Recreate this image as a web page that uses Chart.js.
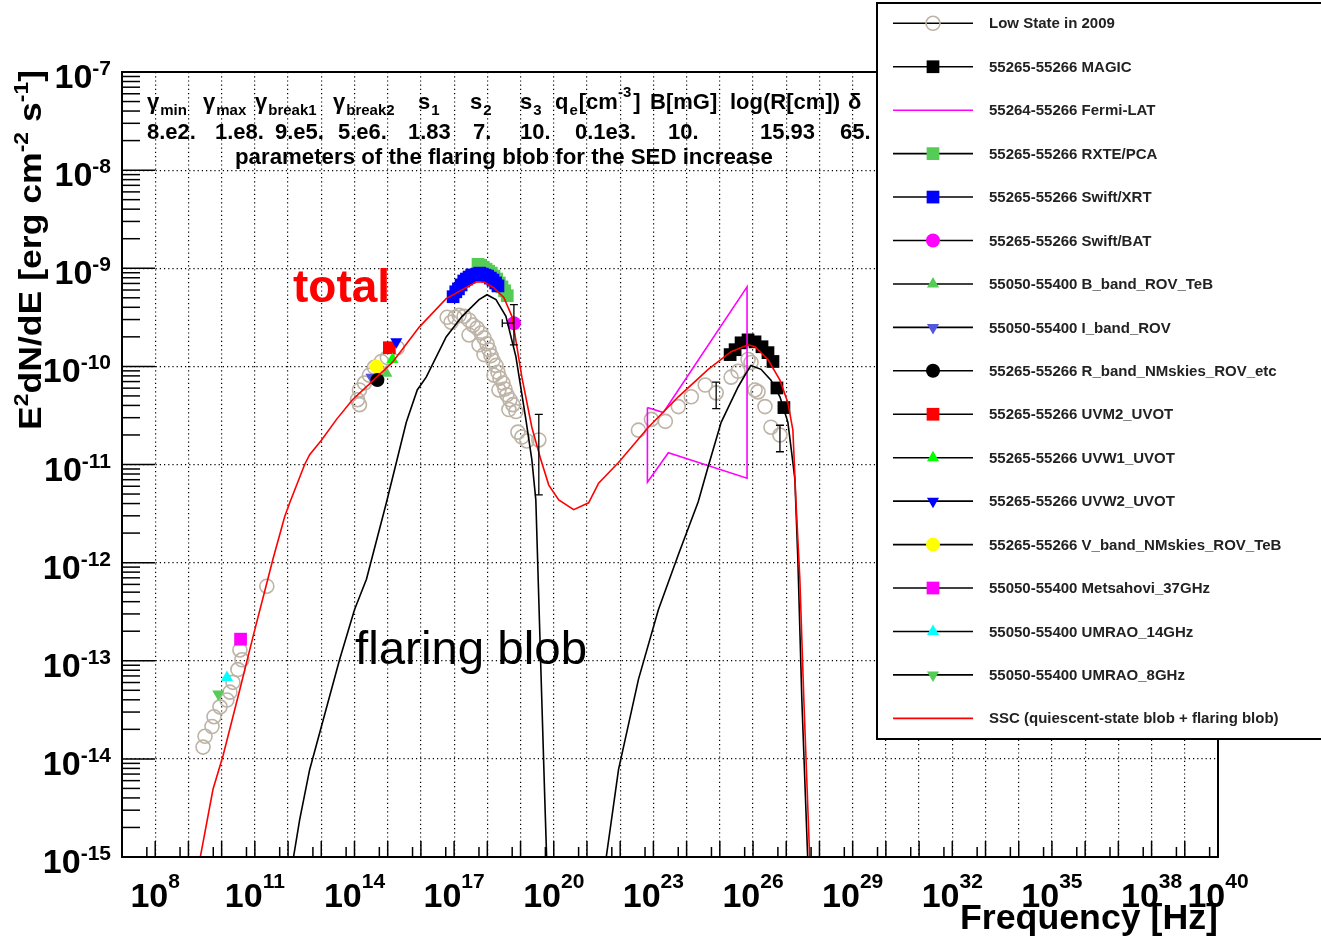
<!DOCTYPE html>
<html><head><meta charset="utf-8">
<script src="https://cdn.jsdelivr.net/npm/chart.js@4.4.1/dist/chart.umd.min.js"></script>
<style>html,body{margin:0;padding:0;background:#fff}#wrap{width:1321px;height:938px;position:relative}</style>
</head><body><div id="wrap"><canvas id="c" width="1321" height="938"></canvas></div>
<script>
// ---------- axis ticks (log10 exponents) ----------
const xTickExp = [8,11,14,17,20,23,26,29,32,35,38,40];
const yTickExp = [-7,-8,-9,-10,-11,-12,-13,-14,-15];
const xDecades = [7,8,9,10,11,12,13,14,15,16,17,18,19,20,21,22,23,24,25,26,27,28,29,30,31,32,33,34,35,36,37,38,39,40];
const yDecades = [-15,-14,-13,-12,-11,-10,-9,-8,-7];

// ---------- data (log10 frequency [Hz], log10 E^2dN/dE [erg cm^-2 s^-1]) ----------
const lowFreq = [9.44,9.50,9.71,9.77,9.95,10.16,10.25,10.34,10.49,10.61,10.55,11.36,
 14.09,14.15,14.15,14.30,14.45,14.60,14.81,14.99,15.29,
 16.79,16.91,17.03,17.15,17.30,17.45,17.57,17.69,17.81,17.90,17.99,18.05,18.11,18.17,18.26,18.32,18.38,18.47,18.53,18.59,18.68,18.77,18.86,18.92,19.04,19.19,19.55,
 17.45,17.75,17.90,18.20,18.35,18.65,
 22.55,22.94,23.36,23.75,24.14,24.56,24.89,25.34,25.55,25.85,25.94,26.06,26.15,26.36,26.54,26.81];
const lowFlux = [-13.88,-13.77,-13.67,-13.57,-13.47,-13.40,-13.32,-13.22,-13.09,-12.99,-12.89,-12.24,
 -10.34,-10.39,-10.24,-10.17,-10.09,-10.01,-9.95,-9.91,-9.81,
 -9.50,-9.55,-9.50,-9.48,-9.49,-9.53,-9.58,-9.61,-9.66,-9.71,-9.77,-9.83,-9.89,-9.94,-9.99,-10.06,-10.12,-10.17,-10.23,-10.29,-10.34,-10.39,-10.46,-10.67,-10.72,-10.76,-10.75,
 -9.68,-9.78,-9.88,-10.09,-10.24,-10.44,
 -10.65,-10.54,-10.56,-10.41,-10.31,-10.19,-10.27,-10.11,-10.05,-9.93,-9.96,-10.24,-10.26,-10.41,-10.62,-10.70];

const magicFreq = [25.31,25.46,25.64,25.85,26.06,26.27,26.45,26.60,26.72,26.93];
const magicFlux = [-9.88,-9.83,-9.76,-9.73,-9.75,-9.80,-9.86,-9.95,-10.22,-10.42];

const fermiFreq = [22.82,23.30,25.82,25.82,23.45,22.82,22.82];
const fermiFlux = [-10.42,-10.47,-9.19,-11.14,-10.88,-11.18,-10.42];

const rxteFreq = [17.72,17.80,17.88,17.96,18.04,18.12,18.20,18.28,18.36,18.44,18.52,18.60];
const rxteFlux = [-8.96,-8.97,-8.99,-9.01,-9.03,-9.05,-9.08,-9.11,-9.15,-9.19,-9.23,-9.28];

const xrtFreq = [16.97,17.05,17.13,17.21,17.29,17.37,17.45,17.53,17.61,17.69,17.77,17.85,17.93,18.01,18.09,18.17,18.25,18.32];
const xrtFlux = [-9.29,-9.24,-9.21,-9.17,-9.13,-9.11,-9.09,-9.07,-9.07,-9.06,-9.05,-9.06,-9.07,-9.08,-9.10,-9.12,-9.15,-9.18];

const batFreq = [18.80];
const batFlux = [-9.56];

const bBandFreq = [14.96]; const bBandFlux = [-10.07];
const iBandFreq = [14.51]; const iBandFlux = [-10.11];
const rBandFreq = [14.69]; const rBandFlux = [-10.14];
const uvm2Freq = [15.05]; const uvm2Flux = [-9.81];
const uvw1Freq = [15.14]; const uvw1Flux = [-9.93];
const uvw2Freq = [15.26]; const uvw2Flux = [-9.75];
const vBandFreq = [14.66]; const vBandFlux = [-10.00];
const mets37Freq = [10.57]; const mets37Flux = [-12.78];
const umrao14Freq = [10.16]; const umrao14Flux = [-13.17];
const umrao8Freq = [9.90]; const umrao8Flux = [-13.34];

// model curves
const sscFreq = [9.33,9.74,10.04,10.55,11.00,11.39,11.54,11.90,12.05,12.50,12.65,13.01,13.46,13.94,14.51,15.14,15.95,16.76,17.66,17.90,18.20,18.50,18.74,19.04,19.34,19.61,19.85,20.15,20.60,21.05,21.35,21.95,22.85,23.75,24.65,25.34,25.85,26.06,26.45,26.81,27.05,27.20,27.29,27.41,27.53,27.71];
const sscFlux = [-15.05,-14.31,-13.97,-13.29,-12.68,-12.17,-11.97,-11.53,-11.39,-11.00,-10.90,-10.75,-10.54,-10.34,-10.16,-9.96,-9.60,-9.31,-9.14,-9.14,-9.20,-9.30,-9.49,-10.11,-10.62,-10.95,-11.21,-11.36,-11.46,-11.39,-11.19,-10.98,-10.62,-10.31,-10.03,-9.85,-9.78,-9.80,-9.93,-10.14,-10.37,-10.65,-11.36,-12.17,-13.40,-15.05];
const blobSynFreq = [12.14,12.35,12.65,13.10,13.55,14.00,14.36,14.96,15.26,15.56,15.89,16.16,16.76,17.24,17.75,17.99,18.26,18.56,18.86,19.16,19.34,19.46,19.55,19.64,19.73,19.79];
const blobSynFlux = [-15.05,-14.62,-14.11,-13.55,-12.99,-12.48,-12.17,-11.39,-10.98,-10.57,-10.24,-10.11,-9.70,-9.49,-9.32,-9.27,-9.32,-9.49,-9.90,-10.54,-10.95,-11.36,-12.38,-13.40,-14.41,-15.05];
const blobICFreq = [21.56,21.95,22.55,23.15,23.75,24.35,24.65,25.04,25.55,25.79,25.94,26.24,26.54,26.81,27.05,27.20,27.26,27.35,27.47,27.65];
const blobICFlux = [-15.05,-14.11,-13.19,-12.48,-11.92,-11.38,-11.02,-10.57,-10.21,-10.07,-9.99,-10.03,-10.14,-10.31,-10.57,-10.98,-11.15,-11.97,-13.40,-15.05];

// error bars (log10)
const errFreq = [18.80,19.55,24.89,26.81];
const errLo   = [-9.78,-11.31,-10.43,-10.87];
const errHi   = [-9.37,-10.49,-10.16,-10.60];
const batFreqLo = [18.45]; const batFreqHi = [18.80];

// parameter table
const paramNames = ['γ|min','γ|max','γ|break1','γ|break2','s|1','s|2','s|3','q|e','B[mG]','log(R[cm])','δ'];
const paramValues = ['8.e2.','1.e8.','9.e5.','5.e6.','1.83','7.','10.','0.1e3.','10.','15.93','65.'];

// legend labels
const legendLabels = ['Low State in 2009','55265-55266 MAGIC','55264-55266 Fermi-LAT','55265-55266 RXTE/PCA','55265-55266 Swift/XRT','55265-55266 Swift/BAT','55050-55400 B_band_ROV_TeB','55050-55400 I_band_ROV','55265-55266 R_band_NMskies_ROV_etc','55265-55266 UVM2_UVOT','55265-55266 UVW1_UVOT','55265-55266 UVW2_UVOT','55265-55266 V_band_NMskies_ROV_TeB','55050-55400 Metsahovi_37GHz','55050-55400 UMRAO_14GHz','55050-55400 UMRAO_8GHz','SSC (quiescent-state blob + flaring blob)'];

// ---------- build ----------
const P = v => Math.pow(10, v);
const pts = (xs, ys) => xs.map((x, i) => ({x: P(x), y: P(ys[i])}));
function mk(label, xs, ys, style, r, fill, stroke, order, rot, bw) {
  return {label, data: pts(xs, ys), showLine:false, pointStyle:style, pointRadius:r, pointRotation:rot||0,
    backgroundColor:fill, borderColor:stroke, pointBackgroundColor:fill, pointBorderColor:stroke,
    pointBorderWidth:bw==null?0:bw, order};
}
function ln(label, xs, ys, color, order) {
  return {label, data: pts(xs, ys), showLine:true, borderColor:color, borderWidth:1.6, pointRadius:0, tension:0, fill:false, order};
}
const datasets = [
  mk(legendLabels[0], lowFreq, lowFlux, 'circle', 7, 'rgba(0,0,0,0)', '#bdb3a6', 50, 0, 1.6),
  mk(legendLabels[3], rxteFreq, rxteFlux, 'rect', 9, '#55cc55', '#55cc55', 42),
  mk(legendLabels[4], xrtFreq, xrtFlux, 'rect', 9, '#0000ff', '#0000ff', 41),
  mk(legendLabels[1], magicFreq, magicFlux, 'rect', 9, '#000000', '#000000', 40),
  mk(legendLabels[5], batFreq, batFlux, 'circle', 7, '#ff00ff', '#ff00ff', 30),
  mk(legendLabels[6], bBandFreq, bBandFlux, 'triangle', 7, '#55cc55', '#55cc55', 33),
  mk(legendLabels[7], iBandFreq, iBandFlux, 'triangle', 7, '#5555dd', '#5555dd', 33, 180),
  mk(legendLabels[12], vBandFreq, vBandFlux, 'circle', 7, '#ffff00', '#ffff00', 32),
  mk(legendLabels[8], rBandFreq, rBandFlux, 'circle', 7, '#000000', '#000000', 31),
  mk(legendLabels[9], uvm2Freq, uvm2Flux, 'rect', 9, '#ff0000', '#ff0000', 31),
  mk(legendLabels[10], uvw1Freq, uvw1Flux, 'triangle', 7, '#00ff00', '#00ff00', 30),
  mk(legendLabels[11], uvw2Freq, uvw2Flux, 'triangle', 7, '#0000ff', '#0000ff', 30, 180),
  mk(legendLabels[13], mets37Freq, mets37Flux, 'rect', 9, '#ff00ff', '#ff00ff', 30),
  mk(legendLabels[14], umrao14Freq, umrao14Flux, 'triangle', 7, '#00ffff', '#00ffff', 30),
  mk(legendLabels[15], umrao8Freq, umrao8Flux, 'triangle', 7, '#55cc55', '#55cc55', 30, 180),
  ln(legendLabels[2], fermiFreq, fermiFlux, '#ff00ff', 5),
  ln('flaring blob (synchrotron)', blobSynFreq, blobSynFlux, '#000000', 3),
  ln('flaring blob (inverse Compton)', blobICFreq, blobICFlux, '#000000', 3),
  ln(legendLabels[16], sscFreq, sscFlux, '#ff0000', 1)
];

const FONT = '"Liberation Sans", Arial, Helvetica, sans-serif';
function drawMarker(ctx, style, r, rot, fill, stroke, bw) {
  return (x, y) => {
    ctx.save(); ctx.beginPath();
    if (style === 'circle') ctx.arc(x, y, r, 0, Math.PI*2);
    else if (style === 'rect') { const s = Math.SQRT1_2*r; ctx.rect(x-s, y-s, 2*s, 2*s); }
    else if (style === 'triangle') {
      let a = (rot||0)*Math.PI/180;
      for (let k=0;k<3;k++){ const px=x+Math.sin(a)*r, py=y-Math.cos(a)*r; if(k===0)ctx.moveTo(px,py); else ctx.lineTo(px,py); a+=2*Math.PI/3; }
      ctx.closePath();
    }
    ctx.fillStyle = fill; ctx.fill();
    if (bw) { ctx.lineWidth = bw; ctx.strokeStyle = stroke; ctx.stroke(); }
    ctx.restore();
  };
}
function fitText(ctx, s, x0, x1, y, font, color) {
  ctx.save(); ctx.font = font; const w = ctx.measureText(s).width;
  ctx.translate(x0, y); ctx.scale((x1 - x0) / w, 1); ctx.fillStyle = color; ctx.textAlign = 'left'; ctx.fillText(s, 0, 0); ctx.restore();
}

const decor = {
  id: 'decor',
  afterDatasetsDraw(chart) {
    const ctx = chart.ctx, xs = chart.scales.x, ys = chart.scales.y;
    ctx.save(); ctx.strokeStyle = '#000'; ctx.lineWidth = 1.3;
    errFreq.forEach((f, i) => {
      const x = xs.getPixelForValue(P(f)), y1 = ys.getPixelForValue(P(errLo[i])), y2 = ys.getPixelForValue(P(errHi[i]));
      ctx.beginPath(); ctx.moveTo(x, y1); ctx.lineTo(x, y2);
      ctx.moveTo(x-4, y1); ctx.lineTo(x+4, y1); ctx.moveTo(x-4, y2); ctx.lineTo(x+4, y2); ctx.stroke();
    });
    batFreq.forEach((f, i) => {
      const y = ys.getPixelForValue(P(batFlux[i])), xa = xs.getPixelForValue(P(batFreqLo[i])), xb = xs.getPixelForValue(P(batFreqHi[i]));
      ctx.beginPath(); ctx.moveTo(xa, y); ctx.lineTo(xb, y); ctx.moveTo(xa, y-4); ctx.lineTo(xa, y+4); ctx.stroke();
    });
    ctx.restore();
  },
  afterDraw(chart) {
    const ctx = chart.ctx, xs = chart.scales.x, ys = chart.scales.y, a = chart.chartArea;
    ctx.save();
    // frame
    ctx.strokeStyle = '#000'; ctx.lineWidth = 2;
    ctx.strokeRect(a.left, a.top, a.right - a.left, a.bottom - a.top);
    // y ticks
    ctx.lineWidth = 1.5;
    yDecades.forEach(d => {
      const y = ys.getPixelForValue(P(d));
      ctx.beginPath(); ctx.moveTo(a.left, y); ctx.lineTo(a.left + 33, y); ctx.stroke();
      if (d < -7) for (let m = 2; m <= 9; m++) {
        const yy = ys.getPixelForValue(m * P(d));
        ctx.beginPath(); ctx.moveTo(a.left, yy); ctx.lineTo(a.left + 18, yy); ctx.stroke();
      }
    });
    // x ticks
    xDecades.forEach(d => {
      const x = xs.getPixelForValue(P(d));
      ctx.beginPath(); ctx.moveTo(x, a.bottom); ctx.lineTo(x, a.bottom - 16); ctx.stroke();
      if (d > 7) { const xm = xs.getPixelForValue(0.56 * P(d));
        ctx.beginPath(); ctx.moveTo(xm, a.bottom); ctx.lineTo(xm, a.bottom - 10); ctx.stroke(); }
    });
    // tick labels
    ctx.fillStyle = '#000'; ctx.textBaseline = 'alphabetic'; ctx.textAlign = 'left';
    const big = 'bold 34px ' + FONT, sup = 'bold 21px ' + FONT;
    xTickExp.forEach(e => {
      const x = xs.getPixelForValue(P(e));
      ctx.font = big; const w1 = ctx.measureText('10').width;
      ctx.font = sup; const w2 = ctx.measureText(String(e)).width;
      const x0 = x - (w1 + w2) / 2;
      ctx.font = big; ctx.fillText('10', x0, 907);
      ctx.font = sup; ctx.fillText(String(e), x0 + w1, 888);
    });
    yTickExp.forEach(e => {
      const y = ys.getPixelForValue(P(e));
      ctx.font = sup; const s = String(e); const w2 = ctx.measureText(s).width;
      ctx.fillText(s, 111 - w2, y + 3);
      ctx.font = big; const w1 = ctx.measureText('10').width;
      ctx.fillText('10', 111 - w2 - w1, y + 16);
    });
    // axis titles
    function partsW(list, mainF, supF) {
      let w = 0; list.forEach(p => { ctx.font = p[1] ? supF : mainF; w += ctx.measureText(p[0]).width; }); return w;
    }
    const yt = [['E',0],['2',1],['dN/dE [erg cm',0],['-2',1],[' s',0],['-1',1],[']',0]];
    const yMain = 'bold 31px ' + FONT, ySup = 'bold 20px ' + FONT;
    const wy = partsW(yt, yMain, ySup);
    ctx.save(); ctx.translate(41, 430); ctx.rotate(-Math.PI/2); ctx.scale(360 / wy, 1);
    let cx = 0; yt.forEach(p => { ctx.font = p[1] ? ySup : yMain; ctx.fillText(p[0], cx, p[1] ? -13 : 0); cx += ctx.measureText(p[0]).width; });
    ctx.restore();
    fitText(ctx, 'Frequency [Hz]', 960, 1218, 929, 'bold 35px ' + FONT, '#000');
    // parameter table
    const pMain = 'bold 22px ' + FONT, pSub = 'bold 15px ' + FONT;
    const nameX = [147,203,255,333,418,470,520,555,650,730,848];
    paramNames.forEach((n, i) => {
      let x = nameX[i]; const sp = n.split('|');
      ctx.font = pMain; ctx.fillText(sp[0], x, 109); x += ctx.measureText(sp[0]).width + 1;
      if (sp[1]) { ctx.font = pSub; ctx.fillText(sp[1], x, 115); x += ctx.measureText(sp[1]).width; }
      if (sp[0] === 'q') {
        ctx.font = pMain; ctx.fillText('[cm', x + 1, 109); x += ctx.measureText('[cm').width + 1;
        ctx.font = pSub; ctx.fillText('-3', x, 97); x += ctx.measureText('-3').width + 2;
        ctx.font = pMain; ctx.fillText(']', x, 109);
      }
    });
    const valX = [147,215,275,338,408,473,520,575,668,760,840];
    ctx.font = pMain; paramValues.forEach((v, i) => ctx.fillText(v, valX[i], 139));
    fitText(ctx, 'parameters of the flaring blob for the SED increase', 235, 773, 164, 'bold 22px ' + FONT, '#000');
    // annotations
    ctx.font = 'bold 46px ' + FONT; ctx.fillStyle = '#ff0000'; ctx.fillText('total', 293, 302);
    fitText(ctx, 'flaring blob', 355, 587, 664, '46px ' + FONT, '#000');
    // legend box
    ctx.fillStyle = '#fff'; ctx.fillRect(877, 3, 460, 736);
    ctx.strokeStyle = '#000'; ctx.lineWidth = 2; ctx.strokeRect(877, 3, 460, 736);
    legendLabels.forEach((lab, i) => {
      const y = 23.3 + i * 43.44;
      const ds = chart.data.datasets.find(d => d.label === lab);
      ctx.lineWidth = 1.6;
      ctx.strokeStyle = ds.showLine ? ds.borderColor : '#000';
      ctx.beginPath(); ctx.moveTo(893, y); ctx.lineTo(973, y); ctx.stroke();
      if (!ds.showLine) drawMarker(ctx, ds.pointStyle, ds.pointRadius, ds.pointRotation, ds.pointBackgroundColor, ds.pointBorderColor, ds.pointBorderWidth)(933, y);
      ctx.font = 'bold 15px ' + FONT; ctx.fillStyle = '#222'; ctx.textBaseline = 'middle';
      ctx.fillText(lab, 989, y + 1); ctx.textBaseline = 'alphabetic';
    });
    ctx.restore();
  }
};

const gridCommon = {color:'#000', lineWidth:1.2, drawTicks:false};
new Chart(document.getElementById('c'), {
  type: 'scatter',
  data: {datasets},
  options: {
    responsive:false, animation:false, events:[],
    layout:{padding:{left:122, right:103, top:72, bottom:81}},
    plugins:{legend:{display:false}, tooltip:{enabled:false}},
    scales:{
      x:{type:'logarithmic', min:1e7, max:1e40, afterBuildTicks:s=>{s.ticks = xDecades.map(d=>({value:P(d)}));},
         ticks:{display:false}, grid:gridCommon, border:{display:false, dash:[1.2,3]}},
      y:{type:'logarithmic', min:1e-15, max:1e-7, afterBuildTicks:s=>{s.ticks = yDecades.map(d=>({value:P(d)}));},
         ticks:{display:false}, grid:gridCommon, border:{display:false, dash:[1.2,3]}}
    }
  },
  plugins:[decor]
});
</script></body></html>
